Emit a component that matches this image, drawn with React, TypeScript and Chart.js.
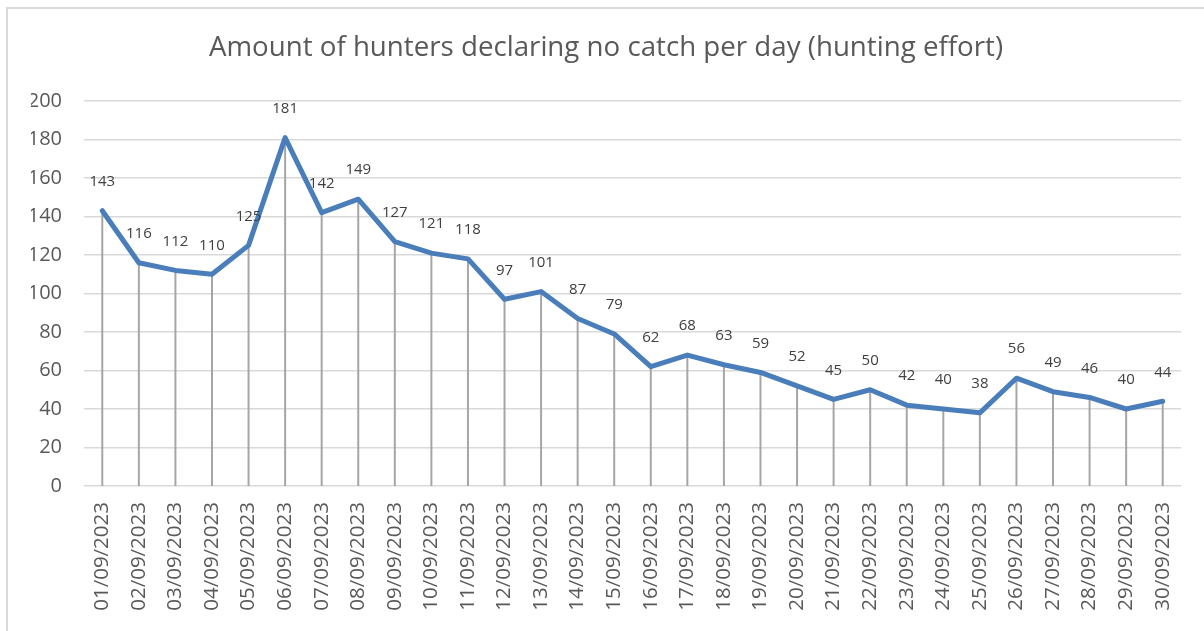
import React, { useEffect, useRef } from "react";
import { Chart, registerables } from "chart.js";

Chart.register(...registerables);

const TITLE = "Amount of hunters declaring no catch per day (hunting effort)";
const DATES = [
  "01/09/2023", "02/09/2023", "03/09/2023", "04/09/2023", "05/09/2023",
  "06/09/2023", "07/09/2023", "08/09/2023", "09/09/2023", "10/09/2023",
  "11/09/2023", "12/09/2023", "13/09/2023", "14/09/2023", "15/09/2023",
  "16/09/2023", "17/09/2023", "18/09/2023", "19/09/2023", "20/09/2023",
  "21/09/2023", "22/09/2023", "23/09/2023", "24/09/2023", "25/09/2023",
  "26/09/2023", "27/09/2023", "28/09/2023", "29/09/2023", "30/09/2023",
];
const HUNTERS_NO_CATCH = [
  143, 116, 112, 110, 125, 181, 142, 149, 127, 121,
  118, 97, 101, 87, 79, 62, 68, 63, 59, 52,
  45, 50, 42, 40, 38, 56, 49, 46, 40, 44,
];
const Y_MIN = 0;
const Y_MAX = 200;
const Y_STEP = 20;

const FONT = "'Open Sans', sans-serif";

const dropLinesPlugin = {
  id: "dropLines",
  beforeDatasetsDraw(chart: any) {
    const meta = chart.getDatasetMeta(0);
    const bottom = chart.scales.y.getPixelForValue(0);
    const ctx = chart.ctx;
    ctx.save();
    ctx.strokeStyle = "#a6a6a6";
    ctx.lineWidth = 2;
    meta.data.forEach((pt: any) => {
      ctx.beginPath();
      ctx.moveTo(pt.x, pt.y);
      ctx.lineTo(pt.x, bottom);
      ctx.stroke();
    });
    ctx.restore();
  },
};

const dataLabelsPlugin = {
  id: "dataLabels",
  afterDatasetsDraw(chart: any) {
    const meta = chart.getDatasetMeta(0);
    const values = chart.data.datasets[0].data;
    const ctx = chart.ctx;
    ctx.save();
    ctx.font = `15px ${FONT}`;
    ctx.fillStyle = "#404040";
    ctx.textAlign = "center";
    ctx.textBaseline = "middle";
    meta.data.forEach((pt: any, i: number) => {
      ctx.fillText(String(values[i]), pt.x, pt.y - 29);
    });
    ctx.restore();
  },
};

export default function App() {
  const ref = useRef<HTMLCanvasElement | null>(null);

  useEffect(() => {
    if (!ref.current) return;
    const chart = new Chart(ref.current, {
      type: "line",
      data: {
        labels: DATES,
        datasets: [
          {
            data: HUNTERS_NO_CATCH,
            borderColor: "#4a7ebb",
            borderWidth: 5,
            pointRadius: 0,
            pointHoverRadius: 0,
            tension: 0,
            fill: false,
            borderJoinStyle: "round",
            borderCapStyle: "round",
          },
        ],
      },
      plugins: [dropLinesPlugin, dataLabelsPlugin],
      options: {
        responsive: false,
        animation: false,
        events: [],
        layout: { padding: { left: 23, right: 23, top: 0, bottom: 0 } },
        plugins: {
          legend: { display: false },
          tooltip: { enabled: false },
          title: {
            display: true,
            text: TITLE,
            color: "#595959",
            font: { family: FONT, size: 27.7, weight: "normal" },
            padding: { top: 22, bottom: 36.8 },
          },
        },
        scales: {
          x: {
            offset: true,
            grid: { display: false, drawTicks: false },
            border: { display: false },
            ticks: {
              color: "#595959",
              font: { family: FONT, size: 20.5 },
              minRotation: 90,
              maxRotation: 90,
              autoSkip: false,
              padding: 16,
            },
            afterFit(scale: any) {
              scale.height = 145;
            },
          },
          y: {
            min: Y_MIN,
            max: Y_MAX,
            grid: { color: "#d9d9d9", lineWidth: 1.5, drawTicks: false },
            border: { display: false },
            ticks: {
              stepSize: Y_STEP,
              color: "#595959",
              font: { family: FONT, size: 20 },
              padding: 22,
            },
            afterFit(scale: any) {
              scale.width = 53;
            },
          },
        },
      },
    });
    return () => chart.destroy();
  }, []);

  return (
    <div
      style={{
        position: "absolute",
        left: 6,
        top: 7,
        width: 1196,
        height: 622,
        borderLeft: "2px solid #d9d9d9",
        borderTop: "2px solid #d9d9d9",
        background: "#ffffff",
        overflow: "hidden",
      }}
    >
      <canvas ref={ref} width={1196} height={622} style={{ display: "block" }} />
    </div>
  );
}
